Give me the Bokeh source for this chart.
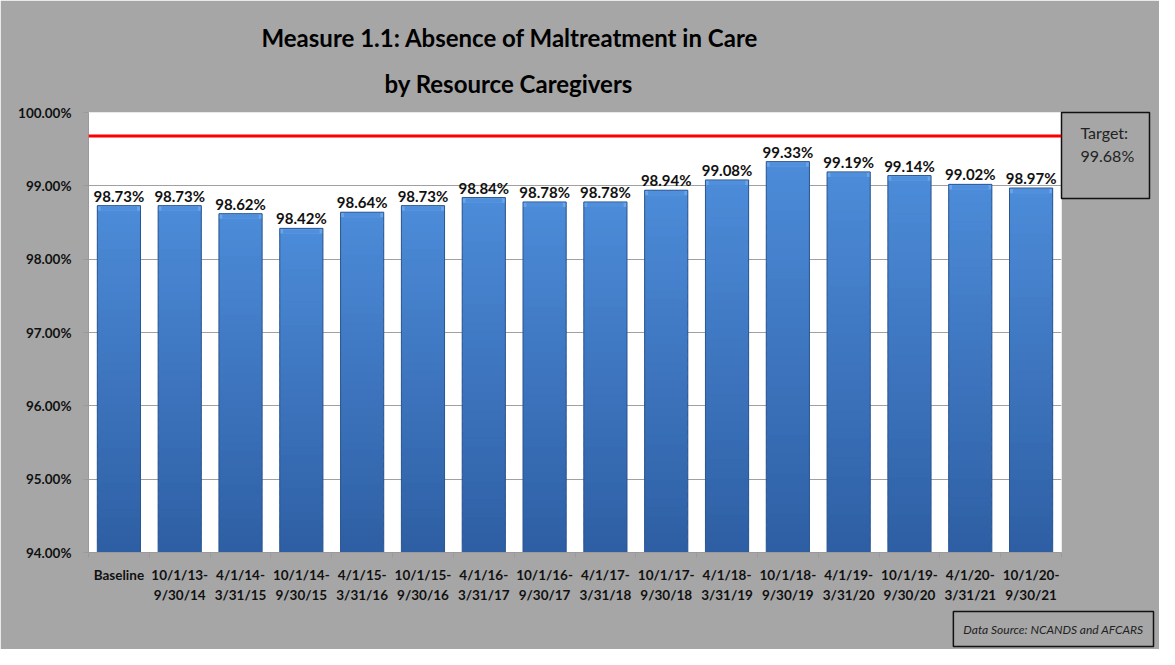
from bokeh.plotting import figure
from bokeh.models import (Range1d, FixedTicker, PrintfTickFormatter, Span,
                          ColumnDataSource, Title, ColorBar, LinearColorMapper)
from bokeh.core.properties import value
from bokeh.embed import file_html
from bokeh.resources import INLINE

# ---------------- data ----------------
periods = ["Baseline", "10/1/13-\n9/30/14", "4/1/14-\n3/31/15", "10/1/14-\n9/30/15",
           "4/1/15-\n3/31/16", "10/1/15-\n9/30/16", "4/1/16-\n3/31/17", "10/1/16-\n9/30/17",
           "4/1/17-\n3/31/18", "10/1/17-\n9/30/18", "4/1/18-\n3/31/19", "10/1/18-\n9/30/19",
           "4/1/19-\n3/31/20", "10/1/19-\n9/30/20", "4/1/20-\n3/31/21", "10/1/20-\n9/30/21"]
rates = [98.73, 98.73, 98.62, 98.42, 98.64, 98.73, 98.84, 98.78,
         98.78, 98.94, 99.08, 99.33, 99.19, 99.14, 99.02, 98.97]
target = 99.68
y_ticks = [94, 95, 96, 97, 98, 99, 100]
title_lines = ["Measure 1.1: Absence of Maltreatment in Care", "by Resource Caregivers"]
target_title = "Target:"
source_note = "Data Source: NCANDS and AFCARS"

# ---------------- geometry ----------------
W, H = 1159, 649
FL, FT, FW, FH = 88, 112, 973, 443
Y0, Y1 = 94, 100
n = len(periods)
X0, X1 = -0.5, n - 0.5

FONT = "Lato"
BG = "#a6a6a6"

p = figure(width=W, height=H, output_backend="svg", toolbar_location=None,
           x_range=Range1d(X0, X1), y_range=Range1d(Y0, Y1),
           min_border_left=FL, min_border_top=FT,
           min_border_right=W - FL - FW, min_border_bottom=H - FT - FH,
           background_fill_color="white", border_fill_color=BG)
p.outline_line_color = None
p.title.text = ""

# ---------------- bars with vertical gradient ----------------
top_rgb = (0x4c, 0x8b, 0xd8)
bot_rgb = (0x2e, 0x5f, 0xa4)
N = 40
gx, gb, gt, gc = [], [], [], []
for i, v in enumerate(rates):
    h = v - Y0
    for k in range(N):
        t = k / (N - 1)
        c = tuple(int(round(b + (a - b) * t)) for a, b in zip(top_rgb, bot_rgb))
        gx.append(i)
        gb.append(Y0 + h * k / N)
        gt.append(min(v, Y0 + h * (k + 1.6) / N))
        gc.append("#%02x%02x%02x" % c)
p.vbar(x=gx, bottom=gb, top=gt, width=0.71, fill_color=gc, line_color=None)

xs = list(range(n))
p.vbar(x=xs, bottom=[v - 0.07 for v in rates], top=rates, width=0.71,
       fill_color="#6aa5ea", line_color=None)
p.vbar(x=xs, bottom=[v - 0.07 for v in rates], top=[v - 0.012 for v in rates], width=0.6,
       fill_color="#4f8fdc", line_color=None)
p.vbar(x=xs, bottom=Y0, top=rates, width=0.71, fill_color=None,
       line_color="#2a5590", line_width=1)

src = ColumnDataSource(dict(x=xs, y=rates, label=["%.2f%%" % v for v in rates]))
p.text(x="x", y="y", text="label", source=src, text_font=value(FONT),
       text_font_style="bold", text_font_size="15px", text_color="#111111",
       text_align="center", text_baseline="alphabetic", y_offset=-10)

p.add_layout(Span(location=target, dimension="width", line_color="#ff0000", line_width=3))

# ---------------- axes ----------------
p.xgrid.grid_line_color = None
p.ygrid.grid_line_color = "#a0a0a0"
p.ygrid.grid_line_width = 1

xa = p.xaxis[0]
xa.ticker = FixedTicker(ticks=xs, minor_ticks=[i - 0.5 for i in range(n + 1)])
xa.major_label_overrides = {i: lab for i, lab in enumerate(periods)}
xa.major_tick_line_color = None
xa.minor_tick_line_color = "#9a9a9a"
xa.minor_tick_out = 5
xa.minor_tick_in = 0
xa.axis_line_color = "#9a9a9a"
xa.major_label_text_font = FONT
xa.major_label_text_font_style = "bold"
xa.major_label_text_font_size = "13.5px"
xa.major_label_text_color = "#111111"
xa.major_label_text_line_height = 1.3
xa.major_label_standoff = 8

ya = p.yaxis[0]
ya.ticker = FixedTicker(ticks=y_ticks)
ya.formatter = PrintfTickFormatter(format="%.2f%%")
ya.minor_tick_line_color = None
ya.major_tick_line_color = "#9a9a9a"
ya.major_tick_out = 5
ya.major_tick_in = 0
ya.axis_line_color = "#9a9a9a"
ya.major_label_text_font = FONT
ya.major_label_text_font_style = "bold"
ya.major_label_text_font_size = "13.5px"
ya.major_label_text_color = "#111111"
ya.major_label_standoff = 12

# ---------------- title (two lines, closest first) ----------------
p.add_layout(Title(text=title_lines[1], align="left", offset=296, standoff=30,
                   text_font=FONT, text_font_style="bold", text_font_size="24px",
                   text_line_height=0.75, text_color="#000000"), "above")
p.add_layout(Title(text=title_lines[0], align="left", offset=173, standoff=0,
                   text_font=FONT, text_font_style="bold", text_font_size="24px",
                   text_line_height=0.75, text_color="#000000"), "above")

# ---------------- target box (colour bar used as a framed text box) ----------------
box_mapper = LinearColorMapper(palette=[BG, BG], low=0, high=1)
tgt = ColorBar(color_mapper=box_mapper, ticker=FixedTicker(ticks=[0.68]),
               major_label_overrides={0.68: "%s\n%.2f%%" % (target_title, target)},
               location="top_left", width=1, height=62, margin=6, padding=12,
               label_standoff=6, scale_alpha=0, bar_line_color=None,
               major_tick_line_color=None, minor_tick_line_color=None,
               major_label_text_font=FONT, major_label_text_font_size="16px",
               major_label_text_color="#222222",
               background_fill_alpha=0, border_line_color="#111111",
               border_line_width=1.5, border_line_alpha=1)
p.add_layout(tgt, "right")

# ---------------- data source box (title in bottom panel) ----------------
p.add_layout(Title(text=source_note, align="right", offset=-92, standoff=6,
                   text_font=FONT, text_font_style="italic", text_font_size="12px",
                   text_color="#222222", border_line_color="#111111", border_line_width=1.5,
                   padding=10), "below")

open("out.html", "w").write(file_html(p, INLINE))
